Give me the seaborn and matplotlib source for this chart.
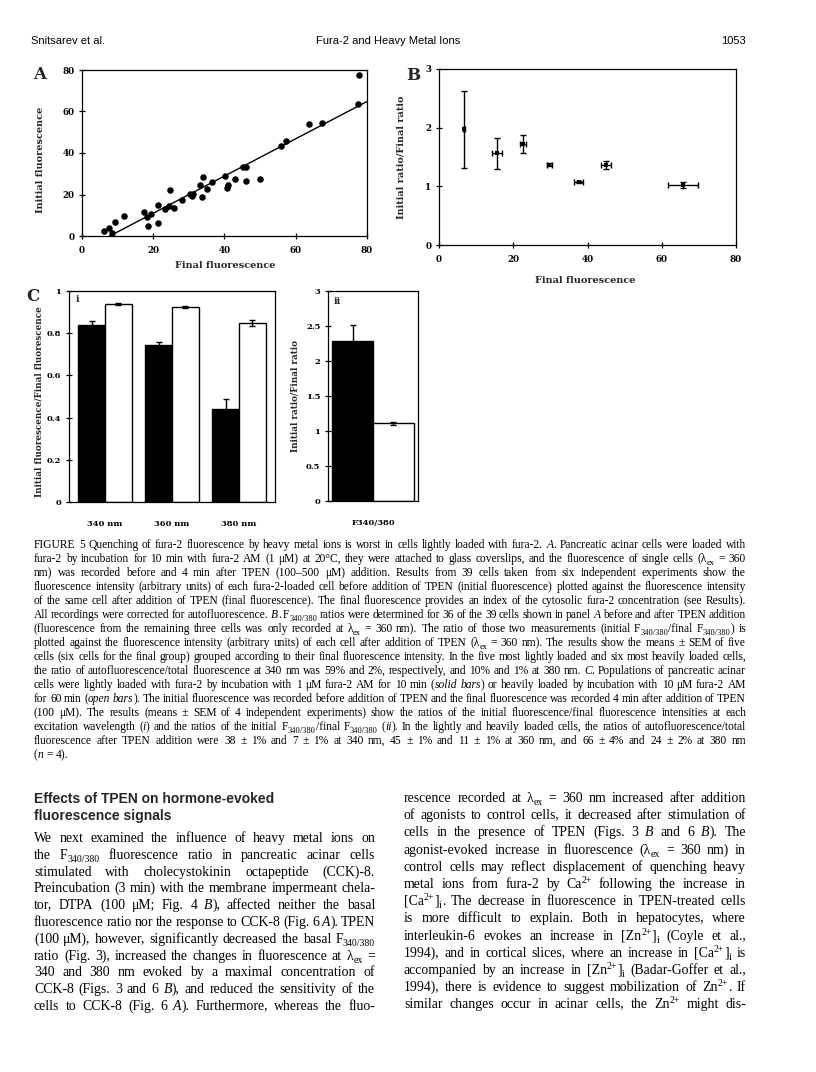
import re
import numpy as np
import pandas as pd
import matplotlib
matplotlib.use("Agg")
import matplotlib.pyplot as plt
from matplotlib.font_manager import FontProperties
import seaborn as sns

# ---------------- data ----------------
# Panel A: single cells
final_fl = [6.3, 7.7, 8.5, 9.3, 11.9, 17.4, 18.3, 18.5, 19.3, 21.2, 21.4, 23.3, 24.5,
            24.7, 25.8, 28.2, 30.3, 31.2, 31.0, 33.2, 33.6, 34.1, 35.1, 36.5, 40.2,
            40.8, 41.1, 43.0, 45.2, 46.1, 46.1, 50.1, 55.9, 57.3, 63.7, 67.3, 77.5, 77.8]
initial_fl = [2.6, 3.9, 1.5, 6.9, 9.5, 11.6, 9.2, 4.7, 10.5, 15.0, 6.5, 13.1, 14.4,
              22.4, 13.7, 17.3, 20.2, 20.2, 19.2, 24.4, 18.7, 28.2, 22.6, 25.8, 28.9,
              23.2, 24.4, 27.3, 33.1, 33.1, 26.3, 27.4, 43.2, 45.6, 54.2, 54.5, 63.5, 77.6]

# Panel B: grouped means +- SEM
b_final = [6.8, 15.6, 22.5, 29.7, 37.6, 45.0, 65.7]
b_final_err = [0.3, 1.4, 0.8, 0.7, 1.3, 1.3, 4.0]
b_ratio = [1.97, 1.56, 1.72, 1.37, 1.07, 1.37, 1.02]
b_ratio_err = [0.65, 0.27, 0.16, 0.03, 0.02, 0.07, 0.05]

# Panel C i
wavelengths = ["340 nm", "360 nm", "380 nm"]
solid_vals = [0.84, 0.746, 0.439]
solid_err = [0.016, 0.012, 0.047]
open_vals = [0.937, 0.924, 0.848]
open_err = [0.005, 0.005, 0.014]

# Panel C ii
ratio_label = ["F340/380"]
ratio_solid = [2.29]
ratio_solid_err = [0.22]
ratio_open = [1.11]
ratio_open_err = [0.025]

# ---------------- style ----------------
W, H = 816, 1072
sns.set_theme(style="white")
plt.rcParams["font.family"] = ["DejaVu Serif"]

fig = plt.figure(figsize=(W / 100, H / 100), dpi=100)
fig.patch.set_facecolor("white")


def rect(l, t, r, b):
    return [l / W, 1 - b / H, (r - l) / W, (b - t) / H]


def fx(x):
    return x / W


def fy(y):
    return 1 - y / H


PF = dict(family="DejaVu Serif", fontweight="bold")


def style_axes(ax, tick_size, xticks=True):
    for s in ax.spines.values():
        s.set_visible(True)
        s.set_color("black")
        s.set_linewidth(0.9)
    ax.tick_params(axis="y", left=True, direction="inout", length=5, width=0.9,
                   colors="black", labelsize=tick_size, pad=3)
    if xticks:
        ax.tick_params(axis="x", bottom=True, direction="inout", length=5, width=0.9,
                       colors="black", labelsize=tick_size, pad=5)
    else:
        ax.tick_params(axis="x", bottom=False, labelsize=tick_size, pad=7, colors="black")
    for lab in ax.get_xticklabels() + ax.get_yticklabels():
        lab.set_fontweight("bold")
        lab.set_family("DejaVu Serif")
    ax.grid(False)


def set_labels(ax, xl, yl, xpos, ypos, box, size):
    l, t, r, b = box
    if xl:
        ax.set_xlabel(xl, fontsize=size, **PF)
        ax.xaxis.set_label_coords((xpos[0] - l) / (r - l), (b - xpos[1]) / (b - t))
        ax.xaxis.label.set_va("center")
    else:
        ax.set_xlabel("")
    if yl:
        ax.set_ylabel(yl, fontsize=size, **PF)
        ax.yaxis.set_label_coords((ypos[0] - l) / (r - l), (b - ypos[1]) / (b - t))
        ax.yaxis.label.set_va("center")
    else:
        ax.set_ylabel("")


# ---------------- Panel A ----------------
boxA = (82, 70, 367, 236)
axA = fig.add_axes(rect(*boxA))
axA.set_xlim(0, 80)
axA.set_ylim(0, 80)
sns.scatterplot(x=final_fl, y=initial_fl, ax=axA, color="black", s=22, linewidth=0)
sns.regplot(x=final_fl, y=initial_fl, ax=axA, scatter=False, ci=None, truncate=False,
            color="black", line_kws=dict(lw=1.0))
axA.set_xlim(0, 80)
axA.set_ylim(0, 80)
axA.set_xticks([0, 20, 40, 60, 80])
axA.set_yticks([0, 20, 40, 60, 80])
style_axes(axA, 6.3)
set_labels(axA, "Final fluorescence", "Initial fluorescence", (225, 266), (40, 160), boxA, 7)

# ---------------- Panel B ----------------
boxB = (439, 69, 736, 245)
axB = fig.add_axes(rect(*boxB))
axB.errorbar(b_final, b_ratio, xerr=b_final_err, yerr=b_ratio_err, fmt="none",
             ecolor="black", elinewidth=1.0, capsize=2.2, capthick=1.0)
sns.scatterplot(x=b_final, y=b_ratio, ax=axB, color="black", marker="s", s=9, linewidth=0)
axB.set_xlim(0, 80)
axB.set_ylim(0, 3)
axB.set_xticks([0, 20, 40, 60, 80])
axB.set_yticks([0, 1, 2, 3])
style_axes(axB, 6.3)
set_labels(axB, "Final fluorescence", "Initial ratio/Final ratio", (585, 280), (401, 157), boxB, 7)

# ---------------- Panel C i ----------------
boxC1 = (69, 291, 275, 502)
axC1 = fig.add_axes(rect(*boxC1))
dfc = pd.DataFrame({
    "wl": wavelengths * 2,
    "load": ["solid"] * 3 + ["open"] * 3,
    "val": solid_vals + open_vals,
})
sns.barplot(data=dfc, x="wl", y="val", hue="load", hue_order=["solid", "open"],
            palette={"solid": "black", "open": "white"}, edgecolor="black", linewidth=1.0,
            errorbar=None, legend=False, ax=axC1, width=0.8)
for cont, errs, vals in zip(axC1.containers, [solid_err, open_err], [solid_vals, open_vals]):
    cx = [p.get_x() + p.get_width() / 2 for p in cont]
    axC1.errorbar(cx, vals, yerr=errs, fmt="none", ecolor="black", elinewidth=1.0,
                  capsize=2.5, capthick=1.0)
axC1.set_ylim(0, 1)
axC1.set_yticks([0, 0.2, 0.4, 0.6, 0.8, 1.0])
axC1.set_yticklabels(["0", "0.2", "0.4", "0.6", "0.8", "1"])
style_axes(axC1, 6.0, xticks=False)
set_labels(axC1, None, "Initial fluorescence/Final fluorescence", None, (39, 402), boxC1, 6.3)

# ---------------- Panel C ii ----------------
boxC2 = (328, 291, 418, 501)
axC2 = fig.add_axes(rect(*boxC2))
dfr = pd.DataFrame({
    "lab": ratio_label * 2,
    "load": ["solid", "open"],
    "val": ratio_solid + ratio_open,
})
sns.barplot(data=dfr, x="lab", y="val", hue="load", hue_order=["solid", "open"],
            palette={"solid": "black", "open": "white"}, edgecolor="black", linewidth=1.0,
            errorbar=None, legend=False, ax=axC2, width=0.8)
for cont, errs, vals in zip(axC2.containers, [ratio_solid_err, ratio_open_err],
                            [ratio_solid, ratio_open]):
    cx = [p.get_x() + p.get_width() / 2 for p in cont]
    axC2.errorbar(cx, vals, yerr=errs, fmt="none", ecolor="black", elinewidth=1.0,
                  capsize=2.5, capthick=1.0)
axC2.set_ylim(0, 3)
axC2.set_yticks([0, 0.5, 1, 1.5, 2, 2.5, 3])
axC2.set_yticklabels(["0", "0.5", "1", "1.5", "2", "2.5", "3"])
style_axes(axC2, 6.0, xticks=False)
set_labels(axC2, None, "Initial ratio/Final ratio", None, (295, 396), boxC2, 6.3)

# panel letters
fig.text(fx(33), fy(66), "A", fontsize=12, va="top", ha="left", **PF)
fig.text(fx(406), fy(67), "B", fontsize=12, va="top", ha="left", **PF)
fig.text(fx(26), fy(288), "C", fontsize=12, va="top", ha="left", **PF)
fig.text(fx(76), fy(300), "i", fontsize=7, va="center", ha="left", **PF)
fig.text(fx(334), fy(302), "ii", fontsize=7, va="center", ha="left", **PF)

# ---------------- page text (justified, word by word) ----------------
renderer = fig.canvas.get_renderer()
SERIF = "Liberation Serif"
SEG_RE = re.compile(r"(\*[^*]+\*|_\{[^}]*\}|\^\{[^}]*\})")
SUBSCALE = 0.72

try:
    from matplotlib.backends.backend_agg import get_hinting_flag
except Exception:
    get_hinting_flag = None


def parse_word(word):
    segs = []
    for part in SEG_RE.split(word):
        if not part:
            continue
        if len(part) > 1 and part.startswith("*") and part.endswith("*"):
            segs.append((part[1:-1], "it"))
        elif part.startswith("_{"):
            segs.append((part[2:-1], "sub"))
        elif part.startswith("^{"):
            segs.append((part[2:-1], "sup"))
        else:
            segs.append((part, "rm"))
    return segs


def seg_props(kind, size):
    fs = size * SUBSCALE if kind in ("sub", "sup") else size
    style = "italic" if kind == "it" else "normal"
    return fs, style


def baseline_fix(s, fs, style):
    """Offset (px) that makes Agg put the glyph baseline exactly on an integer row."""
    try:
        prop = FontProperties(family=SERIF, size=fs, style=style)
        font = renderer._prepare_font(prop)
        font.set_text(s, 0, flags=get_hinting_flag())
        w26, h26 = font.get_width_height()
        d26 = font.get_descent()
        ymax26 = h26 - d26
        k = h26 // 64 - ymax26 // 64
        return k - d26 / 64.0
    except Exception:
        return 0.0


def word_width(word, size):
    total = 0.0
    for s, kind in parse_word(word):
        fs, style = seg_props(kind, size)
        t = fig.text(0, 0, s, fontsize=fs, family=SERIF, style=style)
        total += t.get_window_extent(renderer).width
        t.remove()
    return total


def fit_size(lines, avail, gap_em, max_size, probe=10.0):
    best = max_size
    for line in lines:
        words = [w for w in line.split(" ") if w]
        per_pt = sum(word_width(w, probe) for w in words) / probe
        s = avail / (per_pt + (len(words) - 1) * gap_em * 100 / 72)
        best = min(best, s)
    return best


def text_line(line, x0, x1, y, size, justify=True):
    T = int(round(y))
    px = size * 100 / 72
    words = [w for w in line.split(" ") if w]
    placed = []
    wwidths = []
    for w in words:
        items = []
        for s, kind in parse_word(w):
            fs, style = seg_props(kind, size)
            t = fig.text(0, fy(T), s, fontsize=fs, family=SERIF, style=style,
                         va="baseline", ha="left", color="black")
            items.append((t, s, kind, fs, style, t.get_window_extent(renderer).width))
        placed.append(items)
        wwidths.append(sum(it[5] for it in items))
    if justify and len(words) > 1:
        gap = (x1 - x0 - sum(wwidths)) / (len(words) - 1)
    else:
        gap = px * 0.25
    x = x0
    for items, ww in zip(placed, wwidths):
        xi = x
        for t, s, kind, fs, style, wd in items:
            if kind == "sub":
                base = T + int(round(0.22 * px))
            elif kind == "sup":
                base = T - int(round(0.36 * px))
            else:
                base = T
            yy = base + baseline_fix(s, fs, style)
            t.set_position((fx(xi), fy(yy)))
            xi += wd
        x += ww + gap


# header
hdr = dict(fontsize=8, family="Liberation Sans", va="baseline", color="black")
fig.text(fx(31), fy(44), "Snitsarev et al.", ha="left", **hdr)
fig.text(fx(388), fy(44), "Fura-2 and Heavy Metal Ions", ha="center", **hdr)
fig.text(fx(746), fy(44), "1053", ha="right", **hdr)

caption = [
    "FIGURE 5  Quenching of fura-2 fluorescence by heavy metal ions is worst in cells lightly loaded with fura-2. *A*. Pancreatic acinar cells were loaded with",
    "fura-2 by incubation for 10 min with fura-2 AM (1 μM) at 20°C, they were attached to glass coverslips, and the fluorescence of single cells (λ_{ex} = 360",
    "nm) was recorded before and 4 min after TPEN (100–500 μM) addition. Results from 39 cells taken from six independent experiments show the",
    "fluorescence intensity (arbitrary units) of each fura-2-loaded cell before addition of TPEN (initial fluorescence) plotted against the fluorescence intensity",
    "of the same cell after addition of TPEN (final fluorescence). The final fluorescence provides an index of the cytosolic fura-2 concentration (see Results).",
    "All recordings were corrected for autofluorescence. *B*. F_{340/380} ratios were determined for 36 of the 39 cells shown in panel *A* before and after TPEN addition",
    "(fluorescence from the remaining three cells was only recorded at λ_{ex} = 360 nm). The ratio of those two measurements (initial F_{340/380}/final F_{340/380}) is",
    "plotted against the fluorescence intensity (arbitrary units) of each cell after addition of TPEN (λ_{ex} = 360 nm). The results show the means ± SEM of five",
    "cells (six cells for the final group) grouped according to their final fluorescence intensity. In the five most lightly loaded and six most heavily loaded cells,",
    "the ratio of autofluorescence/total fluorescence at 340 nm was 59% and 2%, respectively, and 10% and 1% at 380 nm. *C*. Populations of pancreatic acinar",
    "cells were lightly loaded with fura-2 by incubation with 1 μM fura-2 AM for 10 min (*solid* *bars*) or heavily loaded by incubation with 10 μM fura-2 AM",
    "for 60 min (*open* *bars*). The initial fluorescence was recorded before addition of TPEN and the final fluorescence was recorded 4 min after addition of TPEN",
    "(100 μM). The results (means ± SEM of 4 independent experiments) show the ratios of the initial fluorescence/final fluorescence intensities at each",
    "excitation wavelength (*i*) and the ratios of the initial F_{340/380}/final F_{340/380} (*ii*). In the lightly and heavily loaded cells, the ratios of autofluorescence/total",
    "fluorescence after TPEN addition were 38 ± 1% and 7 ± 1% at 340 nm, 45 ± 1% and 11 ± 1% at 360 nm, and 66 ± 4% and 24 ± 2% at 380 nm",
    "(*n* = 4).",
]
cap_size = round(fit_size(caption[:-1], 746 - 34, 0.2, 8.8), 2)
for i, line in enumerate(caption):
    text_line(line, 34, 746, 548 + 14 * i, cap_size, justify=(i < len(caption) - 1))

# section heading
fig.text(fx(34), fy(803), "Effects of TPEN on hormone-evoked", fontsize=10,
         family="Liberation Sans", weight="bold", va="baseline", ha="left")
fig.text(fx(34), fy(820), "fluorescence signals", fontsize=10,
         family="Liberation Sans", weight="bold", va="baseline", ha="left")

left_col = [
    "We next examined the influence of heavy metal ions on",
    "the F_{340/380} fluorescence ratio in pancreatic acinar cells",
    "stimulated with cholecystokinin octapeptide (CCK)-8.",
    "Preincubation (3 min) with the membrane impermeant chela-",
    "tor, DTPA (100 μM; Fig. 4 *B*), affected neither the basal",
    "fluorescence ratio nor the response to CCK-8 (Fig. 6 *A*). TPEN",
    "(100 μM), however, significantly decreased the basal F_{340/380}",
    "ratio (Fig. 3), increased the changes in fluorescence at λ_{ex} =",
    "340 and 380 nm evoked by a maximal concentration of",
    "CCK-8 (Figs. 3 and 6 *B*), and reduced the sensitivity of the",
    "cells to CCK-8 (Fig. 6 *A*). Furthermore, whereas the fluo-",
]
right_col = [
    "rescence recorded at λ_{ex} = 360 nm increased after addition",
    "of agonists to control cells, it decreased after stimulation of",
    "cells in the presence of TPEN (Figs. 3 *B* and 6 *B*). The",
    "agonist-evoked increase in fluorescence (λ_{ex} = 360 nm) in",
    "control cells may reflect displacement of quenching heavy",
    "metal ions from fura-2 by Ca^{2+} following the increase in",
    "[Ca^{2+}]_{i}. The decrease in fluorescence in TPEN-treated cells",
    "is more difficult to explain. Both in hepatocytes, where",
    "interleukin-6 evokes an increase in [Zn^{2+}]_{i} (Coyle et al.,",
    "1994), and in cortical slices, where an increase in [Ca^{2+}]_{i} is",
    "accompanied by an increase in [Zn^{2+}]_{i} (Badar-Goffer et al.,",
    "1994), there is evidence to suggest mobilization of Zn^{2+}. If",
    "similar changes occur in acinar cells, the Zn^{2+} might dis-",
]
body_size = round(fit_size(left_col + right_col, 341, 0.22, 11.0), 2)
for i, line in enumerate(left_col):
    text_line(line, 34, 375, 842 + 16.8 * i, body_size)
for i, line in enumerate(right_col):
    text_line(line, 404, 746, 802 + 17.2 * i, body_size)

fig.savefig("out.png", dpi=100, facecolor="white")
